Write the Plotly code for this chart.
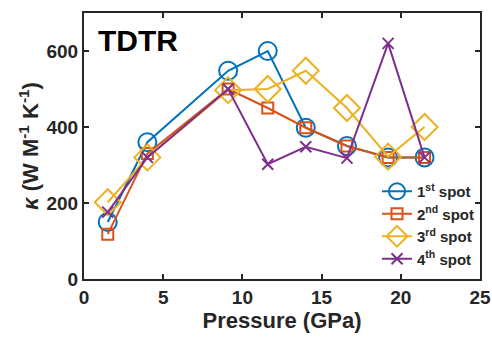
import plotly.graph_objects as go

pressure = [1.5, 4.0, 9.1, 11.6, 14.0, 16.6, 19.2, 21.5]
spot1 = [150, 360, 548, 600, 398, 350, 320, 320]
spot2 = [118, 330, 500, 450, 398, 350, 320, 320]
spot3 = [202, 320, 497, 500, 548, 450, 322, 400]
spot4 = [176, 320, 500, 302, 348, 318, 620, 320]
names = ["1<sup>st</sup> spot", "2<sup>nd</sup> spot", "3<sup>rd</sup> spot", "4<sup>th</sup> spot"]
colors = ["#0072BD", "#D95319", "#EDB120", "#7E2F8E"]
symbols = ["circle-open", "square-open", "diamond-open", "x-thin-open"]
sizes = [18, 11, 20, 11]

fig = go.Figure()
for ys, n, c, s, sz in zip([spot1, spot2, spot3, spot4], names, colors, symbols, sizes):
    fig.add_trace(go.Scatter(x=pressure, y=ys, name=n, mode="lines+markers",
                             line=dict(color=c, width=2),
                             marker=dict(symbol=s, size=sz, color=c, line=dict(color=c, width=2))))

font = "Liberation Sans, Arial, sans-serif"
fig.update_layout(
    width=492, height=340,
    margin=dict(l=84, r=12, t=13, b=61),
    plot_bgcolor="white", paper_bgcolor="white",
    font=dict(family=font, color="#262626"),
    showlegend=True,
    legend=dict(x=1.0, y=0.015, xanchor="right", yanchor="bottom",
                bgcolor="rgba(255,255,255,0)", font=dict(size=15, family=font, weight="bold"),
                tracegroupgap=0, itemwidth=30),
    annotations=[dict(text="<b>TDTR</b>", x=0.03, y=0.965, xref="paper", yref="paper",
                      xanchor="left", yanchor="top", showarrow=False,
                      font=dict(size=30, color="black", family=font))],
)
fig.update_xaxes(range=[0, 25], tickvals=[0, 5, 10, 15, 20, 25], automargin=False,
                 title=dict(text="<b>Pressure (GPa)</b>", font=dict(size=22), standoff=4),
                 tickfont=dict(size=19, weight="bold"),
                 showline=True, linecolor="#262626", linewidth=2, mirror="ticks",
                 ticks="inside", ticklen=5, tickwidth=2, tickcolor="#262626",
                 showgrid=False, zeroline=False)
fig.update_yaxes(range=[0, 700], tickvals=[0, 200, 400, 600], automargin=False,
                 title=dict(text="<b><i>κ</i> (W M<sup>-1</sup> K<sup>-1</sup>)</b>", font=dict(size=22), standoff=2),
                 tickfont=dict(size=19, weight="bold"),
                 showline=True, linecolor="#262626", linewidth=2, mirror="ticks",
                 ticks="inside", ticklen=5, tickwidth=2, tickcolor="#262626",
                 showgrid=False, zeroline=False)
fig.write_html("out.html", config={"displayModeBar": False},
               post_script="document.body.style.margin='0';document.body.style.overflow='hidden';")
